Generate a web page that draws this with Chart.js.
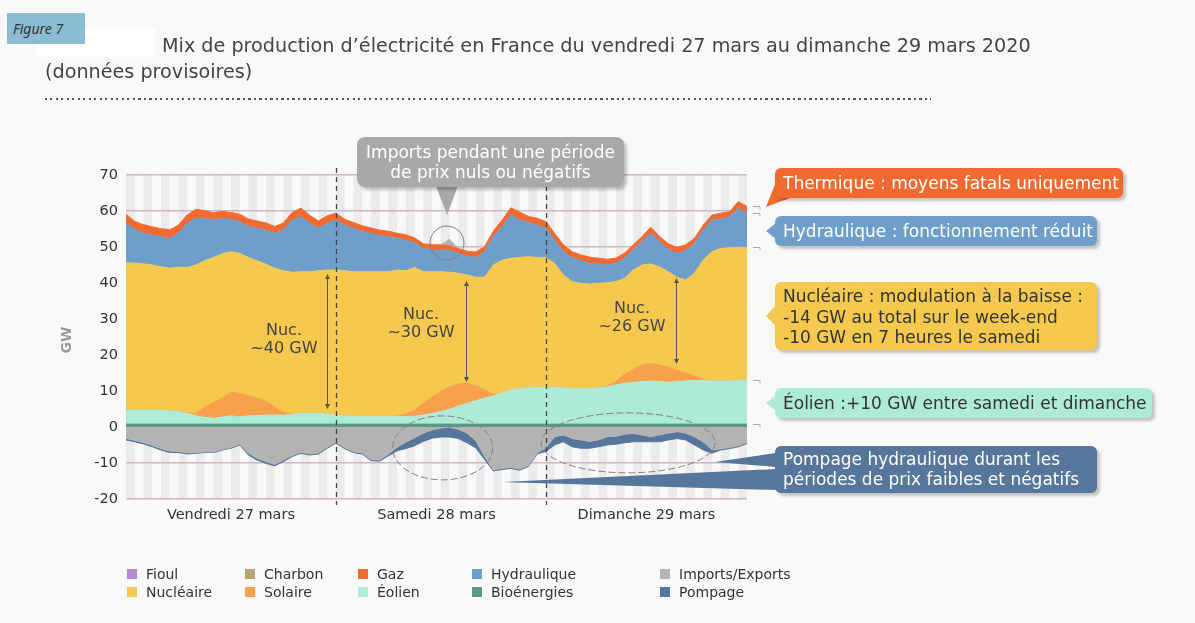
<!DOCTYPE html>
<html lang="fr">
<head>
<meta charset="utf-8">
<title>Mix de production d'électricité en France, 27-29 mars 2020</title>
<script src="https://cdn.jsdelivr.net/npm/chart.js@4.4.1/dist/chart.umd.min.js"></script>
<style>
  html, body { margin: 0; padding: 0; }
  body {
    width: 1195px; height: 623px; position: relative; overflow: hidden;
    background: #f9f9f9; font-family: "DejaVu Sans", Verdana, sans-serif; color: #444;
  }
  #graphique { position: absolute; left: 0; top: 0; }
  .abs { position: absolute; white-space: nowrap; }
  #blanc { left: 36px; top: 29px; width: 119px; height: 28px; background: #fff; }
  #figure { left: 7px; top: 13px; width: 78px; height: 31px; background: #8bbdd2;
    font-family: "Noto Sans", "Open Sans", sans-serif; font-style: italic; font-size: 14px;
    line-height: 31px; color: #333; padding-left: 6px; box-sizing: border-box; }
  #titre { left: 162px; top: 35px; font-size: 19.2px; line-height: 22px; color: #444; }
  #sous-titre { left: 45px; top: 61px; font-size: 19.2px; line-height: 22px; color: #444; }
  #pointilles { left: 45px; top: 98px; width: 886px; height: 2px;
    background: repeating-linear-gradient(to right, #555 0 2px, transparent 2px 5.5px); }
  #unite { left: 66px; top: 340px; font-size: 14px; font-weight: bold; color: #9a9a9a;
    transform: translate(-50%, -50%) rotate(-90deg); }
  .nuc { font-size: 16px; line-height: 18px; text-align: center; width: 100px; color: #444; }
  .bulle { font-size: 17px; border-radius: 6px; box-sizing: border-box; padding-left: 8px;
    box-shadow: 3px 3px 3px rgba(0,0,0,0.22); }
  #svg { position: absolute; left: 0; top: 0; }
  .leg { font-size: 14px; color: #333; line-height: 16px; }
  .carre { width: 10px; height: 10px; }
</style>
</head>
<body>
<canvas id="graphique" width="1195" height="623"></canvas>

<div class="abs" id="blanc"></div>
<div class="abs" id="figure">Figure 7</div>
<div class="abs" id="titre">Mix de production d’électricité en France du vendredi 27 mars au dimanche 29 mars 2020</div>
<div class="abs" id="sous-titre">(données provisoires)</div>
<div class="abs" id="pointilles"></div>
<div class="abs" id="unite">GW</div>

<div class="abs nuc" style="left:234px;top:321px">Nuc.<br>~40 GW</div>
<div class="abs nuc" style="left:371px;top:305px">Nuc.<br>~30 GW</div>
<div class="abs nuc" style="left:582px;top:299px">Nuc.<br>~26 GW</div>

<svg id="svg" width="1195" height="623">
  <polygon points="436,186 458,186 447,215" fill="#a9a9a9"/>
  <polygon points="776,182 790,198 766,207" fill="#f26a30"/>
  <polygon points="776,223 776,239 766,231" fill="#6e9fca"/>
  <polygon points="776,305 776,326 766,316" fill="#f4c94e"/>
  <polygon points="776,395 776,411 766,403" fill="#aeead8"/>
  <polygon points="715,462 776,453 776,467" fill="#56779b"/>
  <polygon points="503,482 776,469 776,490" fill="#56779b"/>
</svg>

<div class="abs bulle" style="left:357px;top:137px;width:267px;height:50px;background:#a9a9a9;color:#fff;text-align:center;padding:5px 0 0 0;line-height:20px;border-radius:8px">Imports pendant une période<br>de prix nuls ou négatifs</div>
<div class="abs bulle" style="left:775px;top:168px;width:348px;height:30px;line-height:30px;background:#f26a30;color:#fff">Thermique : moyens fatals uniquement</div>
<div class="abs bulle" style="left:775px;top:216px;width:322px;height:30px;line-height:30px;background:#6e9fca;color:#fff">Hydraulique : fonctionnement réduit</div>
<div class="abs bulle" style="left:775px;top:282px;width:322px;height:68px;line-height:20.5px;padding-top:4px;background:#f4c94e;color:#333">Nucléaire : modulation à la baisse :<br>-14 GW au total sur le week-end<br>-10 GW en 7 heures le samedi</div>
<div class="abs bulle" style="left:775px;top:388px;width:377px;height:30px;line-height:30px;background:#aeead8;color:#333">Éolien :+10 GW entre samedi et dimanche</div>
<div class="abs bulle" style="left:775px;top:446px;width:322px;height:47px;line-height:20px;padding-top:3px;background:#56779b;color:#fff">Pompage hydraulique durant les<br>périodes de prix faibles et négatifs</div>

<div id="legende"></div>

<script>
// heures depuis vendredi 27 mars 00h (pas horaire)
const heures = Array.from({ length: 72 }, (_, i) => i);
const jours = ['Vendredi 27 mars', 'Samedi 28 mars', 'Dimanche 29 mars'];
const milieuxJours = [12, 35.5, 59.5];
const graduationsY = [-20, -10, 0, 10, 20, 30, 40, 50, 60, 70];

// GW, une ligne par jour (ven, sam, dim)
const bioenergies = [
  0.8,0.8,0.8,0.8,0.8,0.8,0.8,0.8,0.8,0.8,0.8,0.8,0.8,0.8,0.8,0.8,0.8,0.8,0.8,0.8,0.8,0.8,0.8,0.8,
  0.8,0.8,0.8,0.8,0.8,0.8,0.8,0.8,0.8,0.8,0.8,0.8,0.8,0.8,0.8,0.8,0.8,0.8,0.8,0.8,0.8,0.8,0.8,0.8,
  0.8,0.8,0.8,0.8,0.8,0.8,0.8,0.8,0.8,0.8,0.8,0.8,0.8,0.8,0.8,0.8,0.8,0.8,0.8,0.8,0.8,0.8,0.8,0.8
];
const eolien = [
  3.9,3.9,3.9,3.9,3.9,3.7,3.5,3.0,2.3,1.9,1.6,2.0,2.3,2.0,2.3,2.4,2.5,2.5,2.5,2.7,3.0,3.0,3.0,2.8,
  2.5,2.3,2.2,2.1,2.1,2.1,2.1,2.1,2.1,2.2,2.5,3.0,3.5,4.1,5.0,5.8,6.5,7.2,7.8,8.7,9.5,9.9,10.1,10.1,
  10.2,10.2,10.1,9.9,9.9,9.9,10.1,10.4,10.9,11.3,11.6,11.8,12.0,11.8,11.6,11.8,12.0,12.1,12.1,12.0,12.0,12.0,12.1,12.3
];
const solaire = [
  0,0,0,0,0,0,0,0.1,0.7,2.8,4.4,5.3,6.6,6.5,5.6,4.8,3.9,2.3,0.8,0,0,0,0,0,
  0,0,0,0,0,0,0,0.1,0.7,1.7,3.3,4.6,5.6,6.2,6.2,5.5,4.1,2.3,0.4,0,0,0,0,0,
  0,0,0,0,0,0,0,0.2,0.9,2.6,3.6,4.6,4.9,4.6,4.2,3.2,2.3,1.3,0.3,0,0,0,0,0
];
const nucleaire = [
  40.9,40.8,40.6,40.3,39.8,39.6,40.1,40.4,41.2,40.7,40.3,40.0,39.0,38.9,38.4,38.2,38.0,38.5,39.3,39.5,39.3,39.3,39.6,40.0,
  40.3,40.3,40.1,40.2,40.2,40.2,40.2,40.6,39.8,39.6,36.5,34.7,33.2,31.9,30.7,30.1,30.2,31.3,36.0,36.8,36.6,36.4,36.4,36.2,
  36.1,34.5,31.3,29.7,29.2,29.0,29.0,28.7,27.8,26.6,27.6,27.8,27.6,27.3,26.5,25.8,25.7,28.5,33.2,35.9,36.8,37.0,37.0,36.8
];
const hydraulique = [
  11.0,9.4,8.5,8.3,8.4,8.3,9.4,12.3,13.0,11.8,10.4,9.9,9.0,8.8,8.7,9.0,9.5,9.7,11.3,14.5,15.3,13.5,11.8,13.0,
  13.9,12.7,12.1,11.2,10.7,10.0,9.8,8.8,8.5,6.9,6.5,6.1,6.1,6.0,5.5,5.3,5.5,7.1,7.9,9.3,12.0,10.4,9.5,9.0,
  8.1,6.4,6.5,6.7,6.3,5.8,5.4,4.9,5.1,5.6,5.6,6.5,8.5,7.0,6.3,6.6,8.2,8.3,8.3,8.8,8.1,8.6,10.8,9.5
];
const gaz = [
  2.5,2.2,2.4,2.3,2.2,2.4,2.3,2.3,2.5,2.1,2.0,1.9,1.9,2.1,2.0,2.0,2.0,1.9,2.0,2.1,2.4,2.2,2.0,2.1,
  1.9,1.6,1.6,1.6,1.5,1.6,1.5,1.4,1.5,1.3,1.3,1.4,1.4,1.3,1.4,1.3,1.5,1.4,1.5,1.9,2.0,2.2,1.7,1.9,
  1.9,1.9,1.9,1.6,1.6,1.7,1.6,1.6,1.4,1.4,1.4,1.4,1.7,1.4,1.5,1.7,1.6,1.4,1.4,1.4,1.7,1.4,1.9,1.9
];
// solde des échanges (négatif = exports)
const importsExports = [
  -3.2,-3.7,-4.3,-5.1,-6.0,-6.7,-6.8,-7.2,-7.1,-6.9,-6.9,-6.2,-5.7,-4.8,-7.3,-8.7,-9.6,-10.4,-9.2,-7.9,-7.0,-7.5,-7.2,-5.6,
  -4.2,-5.7,-6.8,-7.2,-9.0,-9.2,-7.5,-5.6,-4.2,-3.0,-1.7,-0.8,-0.3,2.0,-0.6,-1.7,-3.8,-8.2,-11.9,-11.5,-11.2,-11.7,-10.7,-7.2,
  -5.8,-2.7,-2.2,-3.2,-3.6,-4.0,-3.6,-2.7,-2.6,-2.0,-1.8,-2.2,-2.7,-2.2,-1.7,-1.3,-1.7,-2.7,-4.1,-6.3,-6.1,-5.7,-5.2,-4.3
];
// consommation des stations de pompage (GW absorbés)
const pompage = [
  0.4,0.4,0.4,0.4,0.4,0.4,0.3,0.3,0.2,0.2,0.2,0.2,0.2,0.2,0.5,0.5,0.5,0.4,0.4,0.3,0.3,0.3,0.3,0.3,
  0.3,0.3,0.3,0.3,0.3,0.3,0.5,1.0,1.8,2.2,2.3,2.3,2.5,2.8,2.6,2.7,2.0,0.8,0.3,0.3,0.3,0.3,0.3,0.3,
  1.0,2.3,1.9,2.3,2.3,1.9,1.9,2.3,2.2,2.4,2.3,1.9,1.4,1.9,1.9,1.9,1.9,2.3,2.3,1.0,0.3,0.3,0.3,0.3
];

const couleurs = {
  fioul: '#b788d8', charbon: '#b5a474', gaz: '#f26a30', hydraulique: '#6e9fca',
  echanges: '#b3b3b3', nucleaire: '#f4c94e', solaire: '#f9a04b', eolien: '#aeead8',
  bioenergies: '#5c9886', pompage: '#56779b'
};

// empilement : au-dessus de 0 dans l'ordre, en dessous les exports puis le pompage
const positifs = [
  ['Bioénergies', bioenergies, couleurs.bioenergies],
  ['Éolien', eolien, couleurs.eolien],
  ['Solaire', solaire, couleurs.solaire],
  ['Nucléaire', nucleaire, couleurs.nucleaire],
  ['Hydraulique', hydraulique, couleurs.hydraulique],
  ['Gaz', gaz, couleurs.gaz],
  ['Imports', importsExports.map(v => Math.max(v, 0)), couleurs.echanges]
];
const negatifs = [
  ['Exports', importsExports.map(v => Math.min(v, 0)), couleurs.echanges],
  ['Pompage', pompage.map(v => -v), couleurs.pompage]
];

const datasets = [];
function empiler(liste) {
  let base = heures.map(() => 0);
  liste.forEach(([label, valeurs, couleur], i) => {
    base = base.map((b, j) => b + valeurs[j]);
    datasets.push({
      label,
      data: heures.map((h, j) => ({ x: h, y: base[j] })),
      backgroundColor: couleur,
      borderColor: couleur,
      borderWidth: label === 'Imports' ? 0 : 1,
      pointRadius: 0,
      tension: 0,
      fill: i === 0 ? 'origin' : '-1'
    });
  });
}
empiler(positifs);
empiler(negatifs);

// annotations dans le repère du graphique
const fleches = [
  { h: 23.0, haut: 42.2, bas: 5.3 },
  { h: 38.9, haut: 40.3, bas: 12.8 },
  { h: 62.9, haut: 41.1, bas: 17.8 }
];
const ellipses = [
  { h: 36.7, v: 51.1, rx: 17, ry: 17, tirets: [] },
  { h: 36.2, v: -5.8, rx: 50, ry: 32, tirets: [7, 3] },
  { h: 57.4, v: -4.4, rx: 87, ry: 30, tirets: [7, 3] }
];

const decor = {
  id: 'decor',
  beforeDraw(chart) {
    const { ctx, chartArea: a, scales: { x } } = chart;
    ctx.save();
    ctx.beginPath();
    ctx.rect(a.left, a.top, a.right - a.left, a.bottom - a.top);
    ctx.clip();
    ctx.fillStyle = '#ebebeb';
    for (let h = 0; h < heures.length; h += 2) {
      const x0 = x.getPixelForValue(h), x1 = x.getPixelForValue(h + 1);
      ctx.fillRect(x0, a.top, x1 - x0, a.bottom - a.top);
    }
    ctx.restore();
  },
  afterDatasetsDraw(chart) {
    const { ctx, chartArea: a, scales: { x, y } } = chart;
    ctx.save();
    // séparation des jours
    ctx.strokeStyle = '#444';
    ctx.lineWidth = 1.3;
    ctx.setLineDash([5, 4]);
    [24, 48].forEach(h => {
      const px = Math.round(x.getPixelForValue(h)) + 0.5;
      ctx.beginPath();
      ctx.moveTo(px, a.top - 7);
      ctx.lineTo(px, a.bottom + 6);
      ctx.stroke();
    });
    // flèches nucléaire
    ctx.setLineDash([]);
    ctx.strokeStyle = '#555';
    ctx.fillStyle = '#555';
    ctx.lineWidth = 1;
    fleches.forEach(f => {
      const px = Math.round(x.getPixelForValue(f.h)) + 0.5;
      const y0 = y.getPixelForValue(f.haut), y1 = y.getPixelForValue(f.bas);
      ctx.beginPath();
      ctx.moveTo(px, y0);
      ctx.lineTo(px, y1);
      ctx.stroke();
      ctx.beginPath();
      ctx.moveTo(px, y0 - 1); ctx.lineTo(px - 2.5, y0 + 4); ctx.lineTo(px + 2.5, y0 + 4);
      ctx.closePath(); ctx.fill();
      ctx.beginPath();
      ctx.moveTo(px, y1 + 1); ctx.lineTo(px - 2.5, y1 - 4); ctx.lineTo(px + 2.5, y1 - 4);
      ctx.closePath(); ctx.fill();
    });
    // cercles
    ctx.strokeStyle = '#8c7a82';
    ellipses.forEach(e => {
      ctx.setLineDash(e.tirets);
      ctx.beginPath();
      ctx.ellipse(x.getPixelForValue(e.h), y.getPixelForValue(e.v), e.rx, e.ry, 0, 0, Math.PI * 2);
      ctx.stroke();
    });
    // repères à droite des couches
    ctx.setLineDash([]);
    ctx.strokeStyle = '#aaa';
    const n = heures.length - 1;
    const bords = [0, 1, 3, 4, 5].map(i => datasets[i].data[n].y);
    bords.forEach(v => {
      const py = Math.round(y.getPixelForValue(v)) + 0.5;
      ctx.beginPath();
      ctx.moveTo(a.right + 6, py);
      ctx.lineTo(a.right + 13, py);
      ctx.lineTo(a.right + 13, py + 3);
      ctx.stroke();
    });
    ctx.restore();
  }
};

Chart.defaults.font.family = '"DejaVu Sans", Verdana, sans-serif';
Chart.defaults.color = '#333';

new Chart(document.getElementById('graphique'), {
  type: 'line',
  data: { datasets },
  options: {
    responsive: false,
    animation: false,
    devicePixelRatio: 1,
    layout: { padding: { top: 175, right: 448, bottom: 0, left: 0 } },
    plugins: { legend: { display: false }, tooltip: { enabled: false } },
    scales: {
      x: {
        type: 'linear',
        min: 0,
        max: heures.length - 1,
        afterFit: s => { s.height = 124; },
        afterBuildTicks: s => { s.ticks = milieuxJours.map(v => ({ value: v })); },
        grid: { display: false, drawTicks: false },
        border: { display: false },
        ticks: {
          autoSkip: false, maxRotation: 0, padding: 8,
          font: { size: 14.5 }, color: '#333',
          callback: (v, i) => jours[i]
        }
      },
      y: {
        min: -20,
        max: 70,
        afterFit: s => { s.width = 126; },
        afterBuildTicks: s => { s.ticks = graduationsY.map(v => ({ value: v })); },
        grid: { color: '#cbb9c3', lineWidth: 1.5, drawTicks: false },
        border: { display: false },
        ticks: { padding: 8, font: { size: 14.5 }, color: '#333' }
      }
    }
  },
  plugins: [decor]
});

// légende (deux rangées, cinq colonnes)
const legende = [
  ['Fioul', couleurs.fioul], ['Charbon', couleurs.charbon], ['Gaz', couleurs.gaz],
  ['Hydraulique', couleurs.hydraulique], ['Imports/Exports', couleurs.echanges],
  ['Nucléaire', couleurs.nucleaire], ['Solaire', couleurs.solaire], ['Éolien', couleurs.eolien],
  ['Bioénergies', couleurs.bioenergies], ['Pompage', couleurs.pompage]
];
const colonnes = [127, 245, 358, 472, 660];
const rangees = [574, 592];
const boite = document.getElementById('legende');
legende.forEach(([nom, couleur], i) => {
  const cx = colonnes[i % 5], cy = rangees[Math.floor(i / 5)];
  const carre = document.createElement('div');
  carre.className = 'abs carre';
  carre.style.left = cx + 'px';
  carre.style.top = (cy - 5) + 'px';
  carre.style.background = couleur;
  const texte = document.createElement('div');
  texte.className = 'abs leg';
  texte.style.left = (cx + 19) + 'px';
  texte.style.top = (cy - 8) + 'px';
  texte.textContent = nom;
  boite.appendChild(carre);
  boite.appendChild(texte);
});
</script>
</body>
</html>
